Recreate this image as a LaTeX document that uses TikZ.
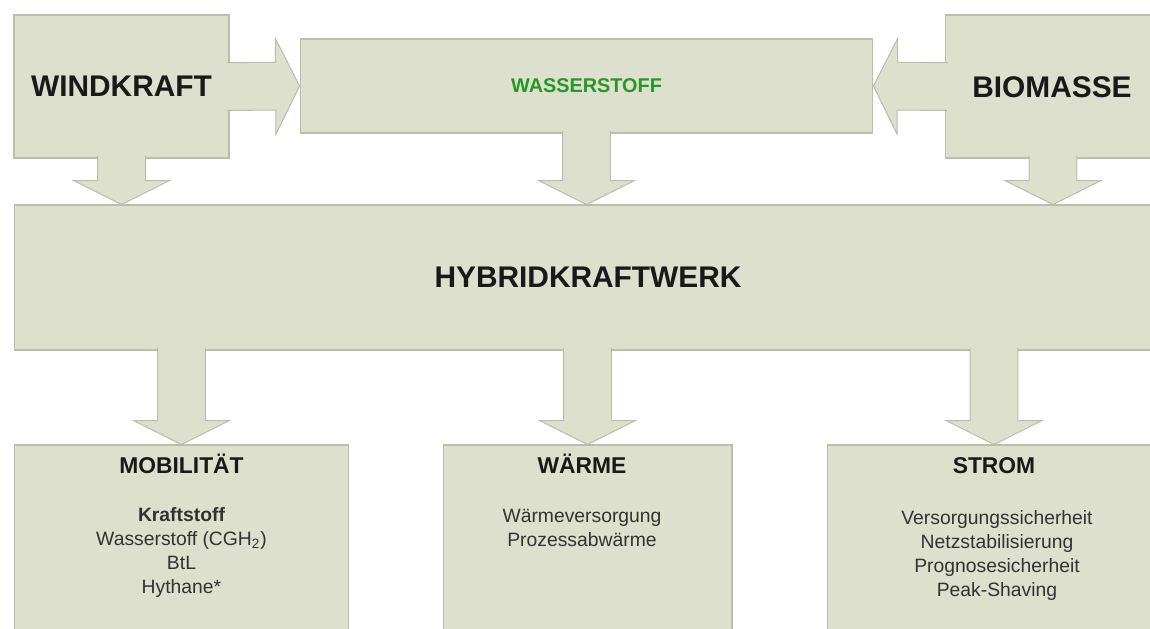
\documentclass[tikz,border=0pt]{standalone}
\usepackage{fontspec}
\setmainfont{Liberation Sans}
\usetikzlibrary{calc}
\definecolor{boxfill}{RGB}{221,224,204}
\definecolor{boxline}{RGB}{186,190,170}
\definecolor{hgreen}{RGB}{40,150,40}
\definecolor{titletxt}{RGB}{25,25,25}
\definecolor{bodytxt}{RGB}{50,50,50}
\begin{document}
\begin{tikzpicture}[x=0.02cm,y=-0.02cm,
  box/.style={draw=boxline,fill=boxfill,line width=0.6pt,inner sep=0pt},
  bigtitle/.style={font=\fontsize{17}{20}\selectfont\bfseries,text=titletxt},
  subtitle/.style={font=\fontsize{13}{15}\selectfont\bfseries,text=titletxt,inner sep=0pt,anchor=base},
  bodytext/.style={font=\fontsize{11}{13.6}\selectfont,text=bodytxt,align=center,inner sep=0pt,anchor=north},
  blockarrow/.style={draw=boxline,fill=boxfill,line width=0.6pt,line join=miter,
    to path={let \p1=(\tikztostart),\p2=(\tikztotarget),
      \n1={atan2(\y2-\y1,\x2-\x1)},
      \n2={veclen(\x2-\x1,\y2-\y1)},
      \n3={veclen(\x2-\x1,\y2-\y1)-13.6} in
      ([shift={(\p1)},rotate=\n1]-1.5pt,13.6pt)
      -- ([shift={(\p1)},rotate=\n1]\n3,13.6pt)
      -- ([shift={(\p1)},rotate=\n1]\n3,27.2pt)
      -- ([shift={(\p1)},rotate=\n1]\n2,0pt)
      -- ([shift={(\p1)},rotate=\n1]\n3,-27.2pt)
      -- ([shift={(\p1)},rotate=\n1]\n3,-13.6pt)
      -- ([shift={(\p1)},rotate=\n1]-1.5pt,-13.6pt)}}]
\useasboundingbox (0,0) rectangle (1150,629);
\clip (0,0) rectangle (1150,629);
\fill[white] (0,0) rectangle (1150,629);

% boxes
\node[box,bigtitle,minimum width=4.30cm,minimum height=2.86cm] (wind) at (121.5,86.5) {WINDKRAFT};
\node[box,minimum width=11.46cm,minimum height=1.88cm,font=\fontsize{11.3}{13}\selectfont\bfseries,text=hgreen] (wass) at (586.5,86) {WASSERSTOFF};
\node[box,bigtitle,minimum width=4.32cm,minimum height=2.86cm] (bio) at (1053,86.5) {};
\node[bigtitle,inner sep=0pt] (biotxt) at (1052,87) {BIOMASSE};
\node[box,bigtitle,minimum width=22.96cm,minimum height=2.90cm] (hyb) at (588,277.5) {HYBRIDKRAFTWERK};
\node[box,minimum width=6.70cm,minimum height=3.90cm] (mob) at (181.5,542.5) {};
\node[box,minimum width=5.78cm,minimum height=3.90cm] (warme) at (587.5,542.5) {};
\node[box,minimum width=6.68cm,minimum height=3.90cm] (strom) at (994,542.5) {};

% block arrows
\path[blockarrow] (wind.east) to (wass.west);
\path[blockarrow] (bio.west) to (wass.east);
\path[blockarrow] (wind.south) to (wind.south |- hyb.north);
\path[blockarrow] (wass.south) to (wass.south |- hyb.north);
\path[blockarrow] (bio.south) to (bio.south |- hyb.north);
\path[blockarrow] (mob.north |- hyb.south) to (mob.north);
\path[blockarrow] (warme.north |- hyb.south) to (warme.north);
\path[blockarrow] (strom.north |- hyb.south) to (strom.north);

% texts in lower boxes
\node[subtitle] (mobt) at (181.5,473) {MOBILITÄT};
\node[bodytext] (mobb) at (181.5,507) {\textbf{Kraftstoff}\\Wasserstoff (CGH\textsubscript{2})\\BtL\\Hythane*};
\node[subtitle] (warmet) at (582,473) {WÄRME};
\node[bodytext] (warmeb) at (582,509) {Wärmeversorgung\\Prozessabwärme};
\node[subtitle] (stromt) at (994,473) {STROM};
\node[bodytext] (stromb) at (997,510) {Versorgungssicherheit\\Netzstabilisierung\\Prognosesicherheit\\Peak-Shaving};
\end{tikzpicture}
\end{document}
